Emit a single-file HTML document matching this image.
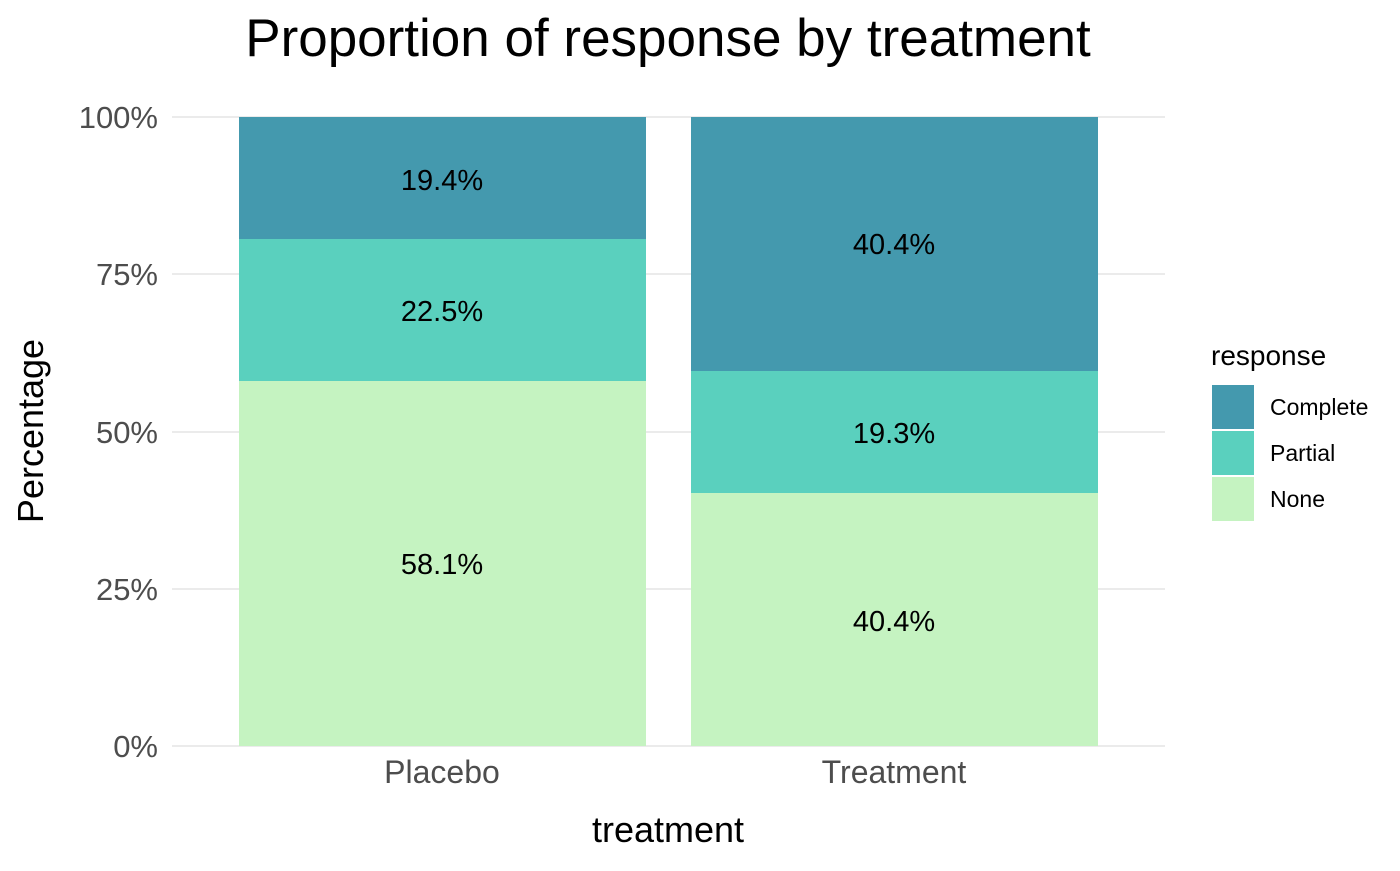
<!DOCTYPE html>
<html><head><style>body{margin:0;background:#fff}</style></head><body>
<svg width="1400" height="866" xmlns="http://www.w3.org/2000/svg" font-family="Liberation Sans, Arial, sans-serif">
<rect width="1400" height="866" fill="#fff"/>
<g stroke="#ebebeb" stroke-width="2">
<line x1="172" x2="1165" y1="117" y2="117"/><line x1="172" x2="1165" y1="274" y2="274"/>
<line x1="172" x2="1165" y1="432" y2="432"/><line x1="172" x2="1165" y1="589" y2="589"/>
<line x1="172" x2="1165" y1="746" y2="746"/>
<line x1="442" x2="442" y1="117" y2="746"/><line x1="894" x2="894" y1="117" y2="746"/>
</g>
<rect x="239" y="117" width="407" height="122" fill="#4499ae"/>
<rect x="239" y="239" width="407" height="142" fill="#5ad0be"/>
<rect x="239" y="381" width="407" height="365" fill="#c5f3c1"/>
<rect x="691" y="117" width="407" height="254" fill="#4499ae"/>
<rect x="691" y="371" width="407" height="122" fill="#5ad0be"/>
<rect x="691" y="493" width="407" height="253" fill="#c5f3c1"/>
<g font-size="29" text-anchor="middle" fill="#000">
<text x="442" y="190">19.4%</text><text x="442" y="321">22.5%</text><text x="442" y="574">58.1%</text>
<text x="894" y="254">40.4%</text><text x="894" y="443">19.3%</text><text x="894" y="631">40.4%</text>
</g>
<g font-size="31" text-anchor="end" fill="#4d4d4d">
<text x="158" y="128">100%</text><text x="158" y="285">75%</text><text x="158" y="443">50%</text>
<text x="158" y="600">25%</text><text x="158" y="757">0%</text>
</g>
<g font-size="32" text-anchor="middle" fill="#4d4d4d">
<text x="442" y="783">Placebo</text><text x="894" y="783">Treatment</text>
</g>
<text x="668" y="842" font-size="36" text-anchor="middle">treatment</text>
<text transform="translate(43,431) rotate(-90)" font-size="36" text-anchor="middle">Percentage</text>
<text x="668" y="56" font-size="53" text-anchor="middle">Proportion of response by treatment</text>
<text x="1211" y="365" font-size="28">response</text>
<rect x="1212" y="385" width="42" height="44" fill="#4499ae"/>
<rect x="1212" y="431" width="42" height="44" fill="#5ad0be"/>
<rect x="1212" y="477" width="42" height="44" fill="#c5f3c1"/>
<g font-size="23"><text x="1270" y="415">Complete</text><text x="1270" y="461">Partial</text><text x="1270" y="507">None</text></g>
</svg>
</body></html>
